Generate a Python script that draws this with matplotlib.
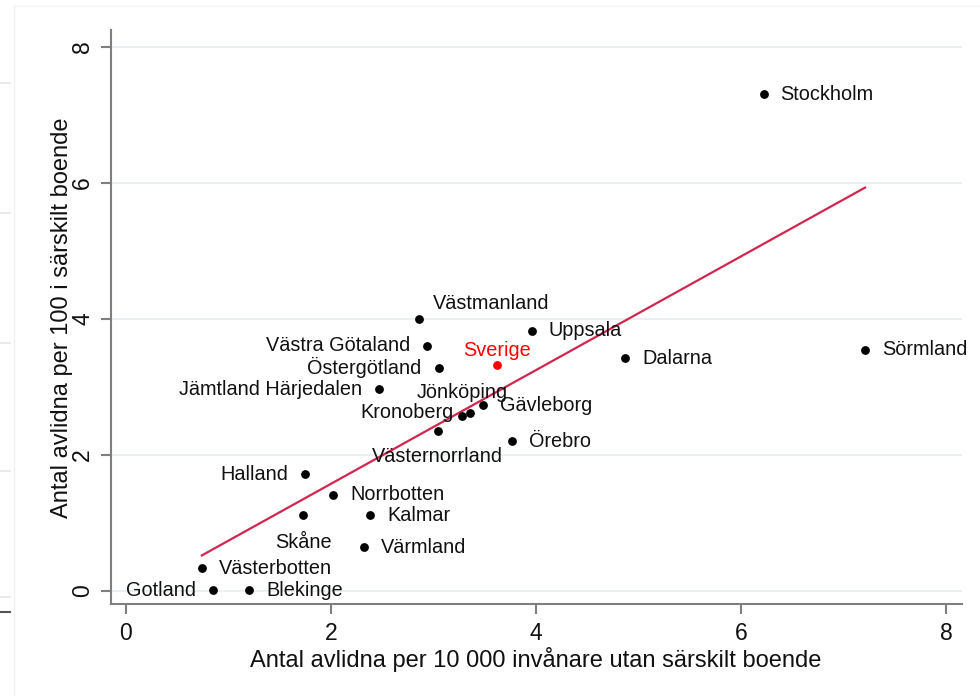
import matplotlib
matplotlib.use("Agg")
import matplotlib.pyplot as plt
from matplotlib.lines import Line2D
import numpy as np

plt.rcParams['font.family'] = ['Liberation Sans', 'DejaVu Sans']

# ---- data ----
counties = ["Stockholm", "Sörmland", "Dalarna", "Uppsala", "Västmanland",
            "Västra Götaland", "Östergötland", "Jämtland Härjedalen", "Jönköping",
            "Kronoberg", "Gävleborg", "Västernorrland", "Örebro", "Halland",
            "Norrbotten", "Skåne", "Kalmar", "Värmland", "Västerbotten",
            "Gotland", "Blekinge"]
x_vals = [6.22, 7.21, 4.87, 3.96, 2.86,
          2.94, 3.05, 2.47, 3.28,
          3.36, 3.48, 3.04, 3.77, 1.75,
          2.02, 1.73, 2.38, 2.32, 0.74,
          0.85, 1.20]
y_vals = [7.30, 3.54, 3.42, 3.82, 4.00,
          3.60, 3.28, 2.96, 2.57,
          2.62, 2.73, 2.35, 2.20, 1.71,
          1.41, 1.11, 1.11, 0.64, 0.33,
          0.01, 0.01]
national_label = "Sverige"
national_x = 3.62
national_y = 3.32
fit_slope = 0.836
fit_intercept = -0.100

x_ticks = [0, 2, 4, 6, 8]
y_ticks = [0, 2, 4, 6, 8]
x_title = "Antal avlidna per 10 000 invånare utan särskilt boende"
y_title = "Antal avlidna per 100 i särskilt boende"

# label placement (pixel offsets, styling only)
label_pos = {
    "Västmanland": (14, 15, 'left'),
    "Västra Götaland": (-17, 0, 'right'),
    "Östergötland": (-17, 0, 'right'),
    "Jämtland Härjedalen": (-17, 0, 'right'),
    "Kronoberg": (-17, 0, 'right'),
    "Halland": (-17, 0, 'right'),
    "Gotland": (-17, 0, 'right'),
    "Jönköping": (0, 23, 'center'),
    "Västernorrland": (0, -26, 'center'),
    "Skåne": (0, -27, 'center'),
}

W, H = 980, 696
fig = plt.figure(figsize=(W / 100, H / 100), dpi=100)
fig.patch.set_facecolor('white')

ax = fig.add_axes([110.7 / W, 1 - 604.3 / H, (962 - 110.7) / W, (604.3 - 30) / H])
ax.set_xlim(-0.149, 8.156)
ax.set_ylim(-0.20, 8.245)

grid_c = '#e8eff1'
for yt in y_ticks:
    ax.axhline(yt, color=grid_c, lw=1.3, zorder=0)

ax.scatter(x_vals, y_vals, s=40, color='black', zorder=3, linewidths=0)
ax.scatter([national_x], [national_y], s=40, color='#ff0000', zorder=3, linewidths=0)

xf = np.array([min(x_vals), max(x_vals)])
ax.plot(xf, fit_intercept + fit_slope * xf, color='#d2264e', lw=1.6, zorder=2)

lab_fs = 14.3
px2pt = 0.72
for name, xv, yv in zip(counties, x_vals, y_vals):
    dx, dy, ha = label_pos.get(name, (17, 0, 'left'))
    ax.annotate(name, (xv, yv), xytext=(dx * px2pt, dy * px2pt), textcoords='offset points',
                ha=ha, va='center', fontsize=lab_fs, color='#111111', annotation_clip=False,
                zorder=4)
ax.annotate(national_label, (national_x, national_y), xytext=(0, 14 * px2pt),
            textcoords='offset points', ha='center', va='center', fontsize=lab_fs,
            color='#ff0000', annotation_clip=False, zorder=4)

for s in ['top', 'right']:
    ax.spines[s].set_visible(False)
for s in ['left', 'bottom']:
    ax.spines[s].set_color('#7f7f7f')
    ax.spines[s].set_linewidth(1.5)

ax.set_xticks(x_ticks)
ax.set_yticks(y_ticks)
ax.set_xticklabels([str(t) for t in x_ticks], fontsize=16.5, color='#111111')
ax.set_yticklabels([str(t) for t in y_ticks], fontsize=16.5, color='#111111',
                   rotation=90, va='center')
ax.tick_params(axis='both', direction='out', length=7, width=1.5, color='#7f7f7f')
ax.tick_params(axis='x', pad=6)
ax.tick_params(axis='y', pad=5)

fig.text(536 / W, 1 - 660 / H, x_title, ha='center', va='center', fontsize=17, color='#111111')
fig.text(62 / W, 1 - 318 / H, y_title, ha='center', va='center', fontsize=17,
         color='#111111', rotation=90)

# faint frame / crop artifacts at left edge
fig.add_artist(Line2D([14 / W, 14 / W], [0, 1 - 6 / H], color='#f0f0f0', lw=1))
fig.add_artist(Line2D([14 / W, 1], [1 - 6 / H, 1 - 6 / H], color='#f3f3f3', lw=1))
for yy in [83, 213, 343, 471, 597]:
    fig.add_artist(Line2D([0, 10 / W], [1 - yy / H, 1 - yy / H], color='#e2ebed', lw=1.3))
fig.add_artist(Line2D([0, 10 / W], [1 - 612 / H, 1 - 612 / H], color='#555555', lw=1.5))

fig.savefig('out.png', dpi=100, facecolor='white')
